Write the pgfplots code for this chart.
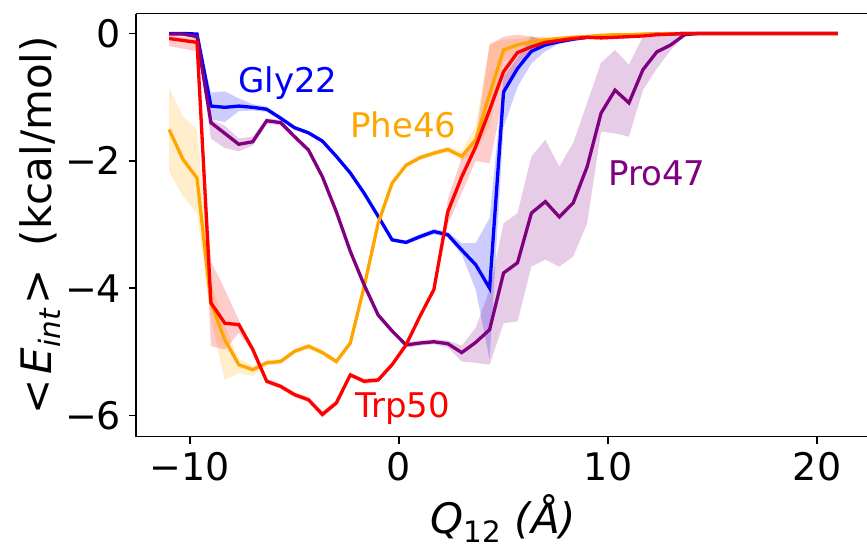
\documentclass[border=0pt]{standalone}
\usepackage{fontspec}
\setmainfont{DejaVu Sans}
\usepackage{pgfplots}
\usepgfplotslibrary{fillbetween}
\usepackage{pgfplotstable}
\pgfplotsset{compat=1.18}
\definecolor{mplorange}{RGB}{255,165,0}
\definecolor{mplpurple}{RGB}{128,0,128}
\newcommand{\msub}[1]{\raisebox{-0.2em}{\fontsize{29.4}{30}\selectfont #1}}

\pgfplotstableread{
x y lo hi
-11 0 -0.02 0
-10.333 0 -0.02 0
-9.667 -0.01 -0.03 0
-9 -1.14 -1.35 -0.93
-8.333 -1.16 -1.39 -0.91
-7.667 -1.14 -1.22 -1.02
-7 -1.16 -1.21 -1.11
-6.333 -1.19 -1.23 -1.15
-5.667 -1.33 -1.36 -1.30
-5 -1.48 -1.51 -1.45
-4.333 -1.56 -1.59 -1.53
-3.667 -1.69 -1.72 -1.66
-3 -1.93 -1.96 -1.90
-2.333 -2.19 -2.22 -2.16
-1.667 -2.51 -2.54 -2.48
-1 -2.87 -2.90 -2.84
-0.333 -3.24 -3.27 -3.21
0.333 -3.28 -3.31 -3.25
1 -3.19 -3.23 -3.15
1.667 -3.11 -3.15 -3.07
2.333 -3.16 -3.20 -3.12
3 -3.40 -3.47 -3.29
3.667 -3.63 -4.02 -3.29
4.333 -4.00 -5.12 -2.90
5 -0.92 -1.47 -0.68
5.667 -0.55 -0.84 -0.38
6.333 -0.28 -0.47 -0.05
7 -0.18 -0.28 -0.12
7.667 -0.13 -0.16 -0.10
8.333 -0.09 -0.12 -0.06
9 -0.06 -0.09 -0.03
9.667 -0.04 -0.07 -0.02
10.333 -0.03 -0.05 -0.01
11 -0.02 -0.04 0
11.667 -0.02 -0.03 0
12.333 -0.01 -0.02 0
13 -0.01 -0.02 0
13.667 0 -0.01 0
14.333 0 0 0
15 0 0 0
15.667 0 0 0
16.333 0 0 0
17 0 0 0
17.667 0 0 0
18.333 0 0 0
19 0 0 0
19.667 0 0 0
20.333 0 0 0
21 0 0 0
}\gly

\pgfplotstableread{
x y lo hi
-11 -1.51 -2.17 -0.86
-10.333 -1.98 -2.56 -1.30
-9.667 -2.27 -2.82 -1.51
-9 -4.23 -4.50 -3.90
-8.333 -4.81 -5.44 -4.60
-7.667 -5.20 -5.33 -5.10
-7 -5.28 -5.38 -5.22
-6.333 -5.17 -5.21 -5.13
-5.667 -5.15 -5.19 -5.11
-5 -4.99 -5.03 -4.95
-4.333 -4.91 -4.95 -4.87
-3.667 -5.01 -5.05 -4.97
-3 -5.15 -5.19 -5.11
-2.333 -4.86 -4.90 -4.82
-1.667 -3.97 -4.01 -3.93
-1 -2.98 -3.02 -2.94
-0.333 -2.35 -2.39 -2.31
0.333 -2.07 -2.11 -2.03
1 -1.95 -1.99 -1.91
1.667 -1.88 -1.92 -1.84
2.333 -1.82 -1.86 -1.78
3 -1.93 -2.00 -1.85
3.667 -1.67 -1.85 -1.45
4.333 -0.95 -1.45 -0.15
5 -0.26 -0.45 -0.10
5.667 -0.18 -0.30 -0.08
6.333 -0.13 -0.22 -0.05
7 -0.10 -0.15 -0.05
7.667 -0.08 -0.11 -0.05
8.333 -0.06 -0.09 -0.03
9 -0.05 -0.08 -0.02
9.667 -0.03 -0.05 -0.01
10.333 -0.02 -0.04 0
11 -0.02 -0.03 0
11.667 -0.01 -0.02 0
12.333 -0.01 -0.02 0
13 0 -0.01 0
13.667 0 0 0
14.333 0 0 0
15 0 0 0
15.667 0 0 0
16.333 0 0 0
17 0 0 0
17.667 0 0 0
18.333 0 0 0
19 0 0 0
19.667 0 0 0
20.333 0 0 0
21 0 0 0
}\phe

\pgfplotstableread{
x y lo hi
-11 -0.01 -0.03 0
-10.333 -0.01 -0.03 0
-9.667 -0.05 -0.08 -0.02
-9 -1.40 -1.65 -1.35
-8.333 -1.57 -1.80 -1.45
-7.667 -1.74 -1.85 -1.65
-7 -1.70 -1.76 -1.62
-6.333 -1.37 -1.42 -1.33
-5.667 -1.40 -1.44 -1.36
-5 -1.62 -1.66 -1.58
-4.333 -1.83 -1.87 -1.79
-3.667 -2.25 -2.29 -2.21
-3 -2.80 -2.84 -2.76
-2.333 -3.42 -3.46 -3.38
-1.667 -3.95 -3.99 -3.91
-1 -4.42 -4.46 -4.38
-0.333 -4.67 -4.71 -4.63
0.333 -4.89 -4.93 -4.85
1 -4.86 -4.90 -4.82
1.667 -4.84 -4.88 -4.80
2.333 -4.87 -4.93 -4.82
3 -5.01 -5.15 -4.90
3.667 -4.85 -5.17 -4.62
4.333 -4.65 -5.20 -4.02
5 -3.76 -4.55 -2.98
5.667 -3.60 -4.52 -2.82
6.333 -2.82 -3.66 -1.93
7 -2.64 -3.55 -1.67
7.667 -2.88 -3.66 -2.09
8.333 -2.66 -3.50 -1.72
9 -2.09 -2.98 -1.09
9.667 -1.25 -1.54 -0.46
10.333 -0.89 -1.57 -0.26
11 -1.09 -1.62 -0.49
11.667 -0.57 -0.89 -0.05
12.333 -0.29 -0.55 -0.02
13 -0.18 -0.26 -0.01
13.667 -0.02 -0.03 0
14.333 0 0 0
15 0 0 0
15.667 0 0 0
16.333 0 0 0
17 0 0 0
17.667 0 0 0
18.333 0 0 0
19 0 0 0
19.667 0 0 0
20.333 0 0 0
21 0 0 0
}\pro

\pgfplotstableread{
x y lo hi
-11 -0.08 -0.20 -0.03
-10.333 -0.11 -0.24 -0.05
-9.667 -0.14 -0.28 -0.08
-9 -4.23 -4.91 -3.58
-8.333 -4.55 -4.96 -4.02
-7.667 -4.57 -4.70 -4.50
-7 -4.96 -5.00 -4.92
-6.333 -5.46 -5.50 -5.42
-5.667 -5.54 -5.58 -5.50
-5 -5.67 -5.71 -5.63
-4.333 -5.75 -5.79 -5.71
-3.667 -5.98 -6.03 -5.93
-3 -5.80 -5.84 -5.76
-2.333 -5.36 -5.40 -5.32
-1.667 -5.46 -5.50 -5.42
-1 -5.44 -5.48 -5.40
-0.333 -5.20 -5.24 -5.16
0.333 -4.89 -4.93 -4.85
1 -4.44 -4.48 -4.40
1.667 -4.02 -4.06 -3.98
2.333 -2.80 -3.00 -2.60
3 -2.25 -2.50 -1.95
3.667 -1.78 -2.00 -1.65
4.333 -1.20 -2.04 -0.18
5 -0.60 -0.99 -0.05
5.667 -0.30 -0.47 -0.02
6.333 -0.21 -0.30 -0.05
7 -0.14 -0.20 -0.08
7.667 -0.11 -0.14 -0.08
8.333 -0.08 -0.11 -0.05
9 -0.06 -0.09 -0.03
9.667 -0.07 -0.10 -0.04
10.333 -0.06 -0.09 -0.03
11 -0.05 -0.08 -0.02
11.667 -0.04 -0.06 -0.02
12.333 -0.02 -0.04 0
13 -0.01 -0.02 0
13.667 0 -0.01 0
14.333 0 0 0
15 0 0 0
15.667 0 0 0
16.333 0 0 0
17 0 0 0
17.667 0 0 0
18.333 0 0 0
19 0 0 0
19.667 0 0 0
20.333 0 0 0
21 0 0 0
}\trp

\begin{document}
\begin{tikzpicture}
\begin{axis}[
  width=735.7pt, height=423pt, scale only axis,
  xmin=-12.6, xmax=22.6, ymin=-6.33, ymax=0.31,
  axis x line*=box, axis y line*=left,
  axis line style={line width=1.6pt},
  xtick={-10,0,10,20}, xticklabels={−10,0,10,20},
  ytick={-6,-4,-2,0}, yticklabels={−6,−4,−2,0},
  xtick pos=left, ytick pos=left,
  tick align=outside, major tick length=7pt,
  every tick/.style={line width=1.6pt, black},
  tick label style={font=\fontsize{38}{45}\selectfont},
  xticklabel style={yshift=-5pt},
  yticklabel style={xshift=-4pt},
  label style={font=\fontsize{42}{50}\selectfont},
  xlabel={{\itshape Q}\msub{12}\ {\itshape (Å)}},
  ylabel={<\hspace{0.12em}{\itshape E}\msub{\itshape int}\hspace{0.12em}>\hspace{0.55em}(kcal/mol)},
  xlabel style={at={(axis description cs:0.5,0)}, anchor=base, yshift=-97pt},
  ylabel style={at={(axis description cs:-0.130,0.5)}, anchor=center},
  clip=true,
]
% Gly22
\addplot[name path=glyhi, draw=none, forget plot] table[x=x,y=hi]{\gly};
\addplot[name path=glylo, draw=none, forget plot] table[x=x,y=lo]{\gly};
\addplot[blue, fill opacity=0.2, forget plot] fill between[of=glyhi and glylo];
\addplot[blue, line width=3.3pt] table[x=x,y=y]{\gly};
% Phe46
\addplot[name path=phehi, draw=none, forget plot] table[x=x,y=hi]{\phe};
\addplot[name path=phelo, draw=none, forget plot] table[x=x,y=lo]{\phe};
\addplot[mplorange, fill opacity=0.2, forget plot] fill between[of=phehi and phelo];
\addplot[mplorange, line width=3.3pt] table[x=x,y=y]{\phe};
% Pro47
\addplot[name path=prohi, draw=none, forget plot] table[x=x,y=hi]{\pro};
\addplot[name path=prolo, draw=none, forget plot] table[x=x,y=lo]{\pro};
\addplot[mplpurple, fill opacity=0.2, forget plot] fill between[of=prohi and prolo];
\addplot[mplpurple, line width=3.3pt] table[x=x,y=y]{\pro};
% Trp50
\addplot[name path=trphi, draw=none, forget plot] table[x=x,y=hi]{\trp};
\addplot[name path=trplo, draw=none, forget plot] table[x=x,y=lo]{\trp};
\addplot[red, fill opacity=0.2, forget plot] fill between[of=trphi and trplo];
\addplot[red, line width=3.3pt] table[x=x,y=y]{\trp};

\node[anchor=base west, inner sep=0pt, text=blue, font=\fontsize{34}{40}\selectfont] at (axis cs:-7.7,-0.92) {Gly22};
\node[anchor=base west, inner sep=0pt, text=mplorange, font=\fontsize{34}{40}\selectfont] at (axis cs:-2.34,-1.64) {Phe46};
\node[anchor=base west, inner sep=0pt, text=mplpurple, font=\fontsize{34}{40}\selectfont] at (axis cs:10.0,-2.38) {Pro47};
\node[anchor=base west, inner sep=0pt, text=red, font=\fontsize{34}{40}\selectfont] at (axis cs:-2.1,-6.03) {Trp50};
\end{axis}
\pgfresetboundingbox
\path[use as bounding box] ([shift={(-135.7pt,-109pt)}]current axis.south west) rectangle ([shift={(731.3pt,436.7pt)}]current axis.south west);
\end{tikzpicture}
\end{document}
